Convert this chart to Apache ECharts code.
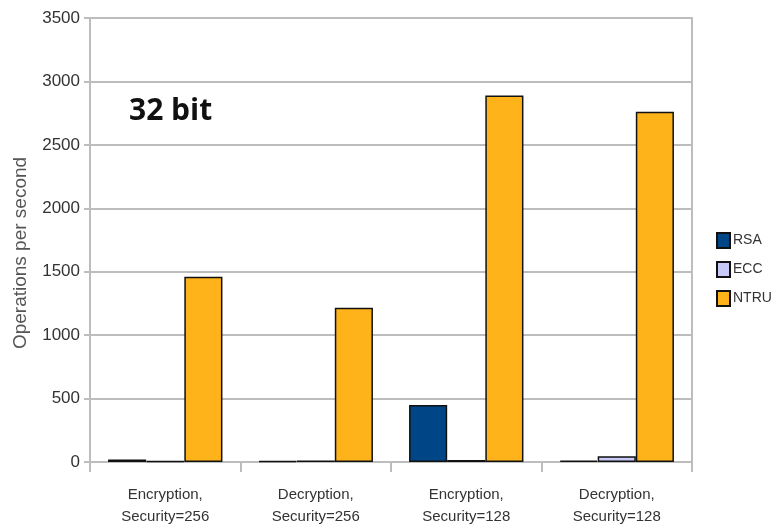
<!DOCTYPE html>
<html><head><meta charset="utf-8">
<script src="https://cdn.jsdelivr.net/npm/echarts@6/dist/echarts.min.js"></script>
<style>html,body{margin:0;padding:0;background:#fff}#c{width:773px;height:528px}</style>
</head><body><div id="c"></div>
<script>
const categories = ['Encryption,\nSecurity=256', 'Decryption,\nSecurity=256', 'Encryption,\nSecurity=128', 'Decryption,\nSecurity=128'];
const rsa = [20, 8, 450, 10];
const ecc = [6, 12, 15, 45];
const ntru = [1460, 1215, 2890, 2760];
const yTicks = [0, 500, 1000, 1500, 2000, 2500, 3000, 3500];
const seriesNames = ['RSA', 'ECC', 'NTRU'];
const colors = ['#004586', '#c9c9f7', '#ffb31a'];

const font = "'Liberation Sans', Arial, sans-serif";
const gridColor = '#bdbdbd';
const chart = echarts.init(document.getElementById('c'), null, {renderer: 'canvas'});
const mk = (name, data, color) => ({
  name, type: 'bar', data, barGap: '0%', barCategoryGap: '24%',
  itemStyle: {color, borderColor: '#111', borderWidth: 1.5},
  emphasis: {disabled: true}
});
chart.setOption({
  animation: false,
  grid: {left: 90, right: 81, top: 18, bottom: 66, show: true, borderColor: gridColor, borderWidth: 2, backgroundColor: 'transparent'},
  legend: {
    orient: 'vertical', left: 716, top: 232, itemGap: 12, padding: 0,
    itemWidth: 13, itemHeight: 15, icon: 'rect',
    data: seriesNames,
    textStyle: {fontFamily: font, fontSize: 14, color: '#333', padding: [0,0,0,-2]}
  },
  xAxis: {
    type: 'category', data: categories,
    axisLine: {lineStyle: {color: gridColor, width: 2}},
    axisTick: {show: true, length: 10, lineStyle: {color: gridColor, width: 2}},
    axisLabel: {fontFamily: font, fontSize: 15, color: '#333', lineHeight: 22, margin: 22}
  },
  yAxis: {
    type: 'value', min: 0, max: 3500, interval: 500,
    axisLine: {show: true, lineStyle: {color: gridColor, width: 2}},
    axisTick: {show: true, length: 6, lineStyle: {color: gridColor, width: 2}},
    splitLine: {lineStyle: {color: gridColor, width: 2}},
    axisLabel: {fontFamily: font, fontSize: 17, color: '#333', margin: 10,
      formatter: v => yTicks.includes(v) ? String(v) : ''}
  },
  series: [mk(seriesNames[0], rsa, colors[0]), mk(seriesNames[1], ecc, colors[1]), mk(seriesNames[2], ntru, colors[2])],
  graphic: [{
    type: 'text', left: 129, top: 96,
    style: {text: '32 bit', fontFamily: "'Open Sans', 'DejaVu Sans', sans-serif", fontWeight: 'bold', fontSize: 30, fill: '#111'}
  }, {
    type: 'text', x: 21, y: 253, rotation: Math.PI / 2,
    style: {text: 'Operations per second', fontFamily: font, fontSize: 19, fill: '#555', align: 'center', verticalAlign: 'middle'}
  }]
});
</script></body></html>
